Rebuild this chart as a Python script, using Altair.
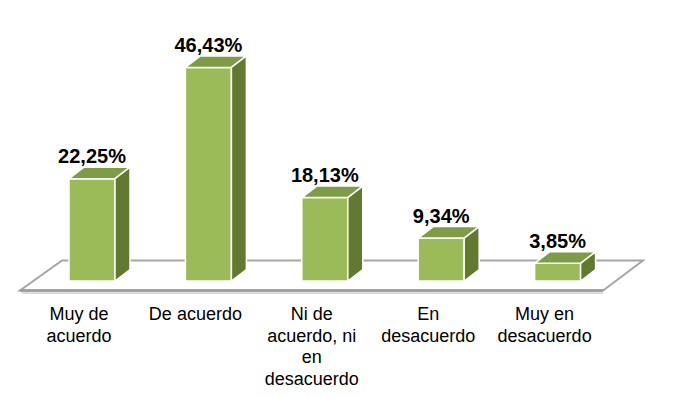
import altair as alt
import pandas as pd

# ---- data ----
categories = ["Muy de acuerdo", "De acuerdo", "Ni de acuerdo, ni en desacuerdo",
              "En desacuerdo", "Muy en desacuerdo"]
cat_labels = ["Muy de\nacuerdo", "De acuerdo", "Ni de\nacuerdo, ni\nen\ndesacuerdo",
              "En\ndesacuerdo", "Muy en\ndesacuerdo"]
values = [22.25, 46.43, 18.13, 9.34, 3.85]
value_labels = ["22,25%", "46,43%", "18,13%", "9,34%", "3,85%"]

# ---- styling / geometry constants ----
FRONT = "#9bbb59"
TOP = "#7e9b45"
SIDE = "#627a30"
W, H = 657, 382
PX_X = 116.4          # pixels per category step
PX_Y = 4.6            # pixels per percent
X0_PX = 84            # plot-pixel position of first category centre
Y0_PX = 273           # plot-pixel position of 0 %
BW = 46 / PX_X        # bar width (category units)
DX = 15 / PX_X        # depth offset x
DY = 11.5 / PX_Y      # depth offset y
LABEL_SHIFT = -13 / PX_X
LABEL_Y = -39 / PX_Y

xs = alt.Scale(domain=[-X0_PX / PX_X, (W - X0_PX) / PX_X], range=[0, W], nice=False, zero=False)
ys = alt.Scale(domain=[(Y0_PX - H) / PX_Y, Y0_PX / PX_Y], range=[H, 0], nice=False, zero=False)

front_rows, side_rows, top_rows, lab_rows, cat_rows = [], [], [], [], []
for i, (c, v) in enumerate(zip(categories, values)):
    x0, x1 = i - BW / 2, i + BW / 2
    front_rows.append({"cat": c, "x0": x0, "x1": x1, "y0": 0, "y1": v})
    side_rows += [{"cat": c, "x": x1, "lo": 0, "hi": v},
                  {"cat": c, "x": x1 + DX, "lo": DY, "hi": v + DY}]
    top_rows += [{"cat": c, "x": x0, "lo": v, "hi": v},
                 {"cat": c, "x": x0 + DX, "lo": v, "hi": v + DY},
                 {"cat": c, "x": x1, "lo": v, "hi": v + DY},
                 {"cat": c, "x": x1 + DX, "lo": v + DY, "hi": v + DY}]
    lab_rows.append({"cat": c, "x": i, "y": v + DY, "t": value_labels[i]})
    cat_rows.append({"cat": c, "x": i + LABEL_SHIFT, "y": LABEL_Y, "t": cat_labels[i]})

# floor (parallelogram)
FL_FRONT_Y, FL_BACK_Y = -9.5 / PX_Y, 20.5 / PX_Y
FL_XFL, FL_XFR = -72 / PX_X, 511 / PX_X
FL_XBL, FL_XBR = -30 / PX_X, 551 / PX_X
floor_rows = [{"x": FL_XFL, "lo": FL_FRONT_Y, "hi": FL_FRONT_Y},
              {"x": FL_XBL, "lo": FL_FRONT_Y, "hi": FL_BACK_Y},
              {"x": FL_XFR, "lo": FL_FRONT_Y, "hi": FL_BACK_Y},
              {"x": FL_XBR, "lo": FL_BACK_Y, "hi": FL_BACK_Y}]
front_edge = pd.DataFrame([{"x": FL_XFL, "x2": FL_XFR, "y": FL_FRONT_Y}])
front_shadow = pd.DataFrame([{"x": FL_XFL + 2 / PX_X, "x2": FL_XFR, "y": FL_FRONT_Y - 2 / PX_Y}])

front = pd.DataFrame(front_rows)
side = pd.DataFrame(side_rows)
top = pd.DataFrame(top_rows)
labs = pd.DataFrame(lab_rows)
cats = pd.DataFrame(cat_rows)
floor = pd.DataFrame(floor_rows)

floor_l = alt.Chart(floor).mark_area(fill="white", stroke="#a6a6a6", strokeWidth=2).encode(
    x=alt.X("x:Q", scale=xs, axis=None), y=alt.Y("lo:Q", scale=ys, axis=None), y2="hi:Q")
shadow_l = alt.Chart(front_shadow).mark_rule(color="#dcdcdc", strokeWidth=3).encode(
    x=alt.X("x:Q", scale=xs, axis=None), x2="x2:Q", y=alt.Y("y:Q", scale=ys, axis=None))
edge_l = alt.Chart(front_edge).mark_rule(color="#999999", strokeWidth=2.5).encode(
    x=alt.X("x:Q", scale=xs, axis=None), x2="x2:Q", y=alt.Y("y:Q", scale=ys, axis=None))

front_l = alt.Chart(front).mark_rect(fill=FRONT, stroke="white", strokeWidth=1.5).encode(
    x=alt.X("x0:Q", scale=xs, axis=None), x2="x1:Q",
    y=alt.Y("y0:Q", scale=ys, axis=None), y2="y1:Q")
top_l = alt.Chart(top).mark_area(fill=TOP, stroke="white", strokeWidth=1.5).encode(
    x=alt.X("x:Q", scale=xs, axis=None), y=alt.Y("lo:Q", scale=ys, axis=None), y2="hi:Q",
    detail="cat:N")
side_l = alt.Chart(side).mark_area(fill=SIDE, stroke="white", strokeWidth=1.5).encode(
    x=alt.X("x:Q", scale=xs, axis=None), y=alt.Y("lo:Q", scale=ys, axis=None), y2="hi:Q",
    detail="cat:N")

val_l = alt.Chart(labs).mark_text(font="Liberation Sans", fontWeight="bold", fontSize=20,
                                  baseline="alphabetic", align="center", dy=-4,
                                  color="black").encode(
    x=alt.X("x:Q", scale=xs, axis=None), y=alt.Y("y:Q", scale=ys, axis=None), text="t:N")
cat_l = alt.Chart(cats).mark_text(font="Liberation Sans", fontSize=18, lineBreak="\n",
                                  lineHeight=21.5, baseline="alphabetic", align="center",
                                  color="black").encode(
    x=alt.X("x:Q", scale=xs, axis=None), y=alt.Y("y:Q", scale=ys, axis=None), text="t:N")

chart = alt.layer(floor_l, shadow_l, edge_l, front_l, top_l, side_l, val_l, cat_l).properties(
    width=W, height=H, padding=0,
    autosize=alt.AutoSizeParams(type="none", contains="padding"),
    background="white",
).configure_view(stroke=None)

chart.save("out.html", embed_options={"renderer": "svg", "actions": False})
